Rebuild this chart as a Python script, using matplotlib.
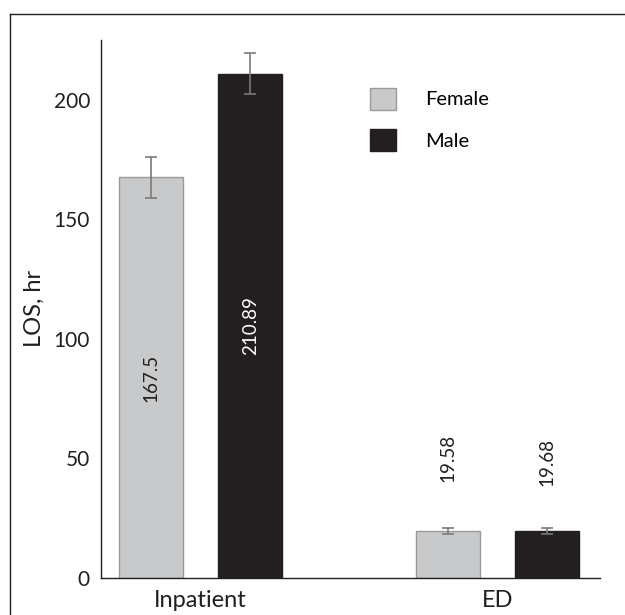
import matplotlib.pyplot as plt
import numpy as np
from matplotlib.lines import Line2D
from matplotlib.patches import Patch

categories = ['Inpatient', 'ED']
groups = ['Female', 'Male']
female_los = [167.5, 19.58]
male_los = [210.89, 19.68]
female_err = [8.7, 1.3]
male_err = [8.5, 1.2]
yticks = [0, 50, 100, 150, 200]

female_color = '#c8c9cb'
male_color = '#231f20'
err_color = '#7a7a7a'

plt.rcParams['font.family'] = ['Lato', 'DejaVu Sans']

fig = plt.figure(figsize=(6.25, 6.15), dpi=100)
ax = fig.add_axes([0.1616, 0.0602, 0.798, 0.875])

# outer frame: only top and left edges show in the source crop
fig.lines.append(Line2D([0.016, 1.0], [0.977, 0.977], transform=fig.transFigure,
                        color='#231f20', linewidth=1.0))
fig.lines.append(Line2D([0.016, 0.016], [0.0, 0.977], transform=fig.transFigure,
                        color='#231f20', linewidth=1.0))

x = np.arange(len(categories))
off = 0.1667
w = 0.215
ax.bar(x - off, female_los, w, color=female_color, edgecolor='#9a9a9a', linewidth=1.0,
       yerr=female_err, error_kw=dict(ecolor=err_color, capsize=4.5, elinewidth=1.2, capthick=1.2))
ax.bar(x + off, male_los, w, color=male_color, edgecolor=male_color, linewidth=1.0,
       yerr=male_err, error_kw=dict(ecolor=err_color, capsize=4.5, elinewidth=1.2, capthick=1.2))

# value labels
ax.text(x[0] - off, female_los[0] / 2, f'{female_los[0]}', rotation=90, ha='center', va='center',
        fontsize=13.5, color='#231f20')
ax.text(x[0] + off, male_los[0] / 2, f'{male_los[0]}', rotation=90, ha='center', va='center',
        fontsize=13.5, color='white')
ax.text(x[1] - off, 50, f'{female_los[1]}', rotation=90, ha='center', va='center',
        fontsize=13.5, color='#231f20')
ax.text(x[1] + off, 48.5, f'{male_los[1]}', rotation=90, ha='center', va='center',
        fontsize=13.5, color='#231f20')

ax.set_xlim(-0.336, 1.344)
ax.set_ylim(0, 225)
ax.set_xticks(x)
ax.set_xticklabels(categories, fontsize=17)
ax.set_yticks(yticks)
ax.set_yticklabels([str(t) for t in yticks], fontsize=15)
ax.tick_params(axis='both', length=0, pad=9, colors='#231f20')
ax.tick_params(axis='y', pad=8)
ax.set_ylabel('LOS, hr', fontsize=17, color='#231f20', labelpad=6)

for s in ['top', 'right']:
    ax.spines[s].set_visible(False)
for s in ['left', 'bottom']:
    ax.spines[s].set_color('#231f20')
    ax.spines[s].set_linewidth(1.0)

handles = [Patch(facecolor=female_color, edgecolor='#9a9a9a'),
           Patch(facecolor=male_color, edgecolor=male_color)]
ax.legend(handles, groups, loc='upper left', bbox_to_anchor=(0.539, 0.911), frameon=False,
          fontsize=14.5, handlelength=1.3, handleheight=1.3, handletextpad=1.44,
          labelspacing=0.95, borderpad=0, borderaxespad=0)

fig.savefig('out.png', dpi=100)
